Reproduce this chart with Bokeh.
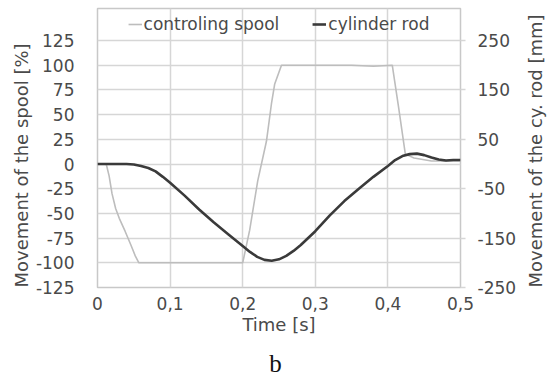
import math
from bokeh.plotting import figure
from bokeh.layouts import row, column
from bokeh.models import Range1d, LinearAxis, FixedTicker, Legend, LegendItem, Title
from bokeh.embed import file_html
from bokeh.resources import INLINE

# ---- data ----
time_spool = [0, 0.012, 0.016, 0.020, 0.025, 0.030, 0.038, 0.046, 0.052, 0.057,
              0.100, 0.150, 0.197, 0.200, 0.2096, 0.2207, 0.2327, 0.2396, 0.2441, 0.2534,
              0.300, 0.350, 0.380, 0.406, 0.415, 0.424, 0.436, 0.460, 0.480, 0.500]
spool_pct = [0, 0, -12, -30, -45, -55, -68, -82, -93, -100,
             -100, -100, -100, -100, -67, -17, 23, 61, 81, 100,
             100, 100, 99, 100, 56, 10, 6, 3, 3, 3]

time_rod = [0, 0.02, 0.04, 0.05, 0.06, 0.07, 0.08, 0.09, 0.10, 0.12, 0.14, 0.16, 0.18,
            0.20, 0.21, 0.22, 0.23, 0.24, 0.25, 0.26, 0.27, 0.28, 0.30, 0.32, 0.34, 0.36,
            0.38, 0.40, 0.41, 0.42, 0.43, 0.44, 0.45, 0.46, 0.47, 0.48, 0.49, 0.50]
rod_mm = [0, 0, 0, -1, -4, -8, -15, -26, -38, -64, -92, -118, -142,
          -166, -178, -188, -194, -196, -193, -186, -176, -164, -136, -104, -75, -50,
          -26, -4, 8, 16, 20, 21, 18, 13, 9, 7, 8, 8]

x_ticks = [0, 0.1, 0.2, 0.3, 0.4, 0.5]
x_tick_labels = ["0", "0,1", "0,2", "0,3", "0,4", "0,5"]
left_ticks = [-125, -100, -75, -50, -25, 0, 25, 50, 75, 100, 125]
left_tick_labels = ["-125", "-100", "-75", "-50", "-25", "0", "25", "50", "75", "100", "125"]
right_ticks = [-250, -150, -50, 50, 150, 250]
right_tick_labels = ["-250", "-150", "-50", "50", "150", "250"]

series_names = ["controling spool", "cylinder rod"]
left_title = "Movement of the spool [%]"
right_title = "Movement of the cy. rod [mm]"
x_title = "Time [s]"
caption_text = "b"

FONT = "DejaVu Sans"
TXT = "#4a4a4a"
GRID = "#d6d6d6"


def bare(fig):
    fig.outline_line_color = None
    fig.background_fill_color = "white"
    fig.border_fill_color = "white"
    fig.grid.visible = False
    return fig


top_left = 157.4
p = figure(width=520, height=340, output_backend="svg", toolbar_location=None,
           x_range=Range1d(0, 0.5), y_range=Range1d(-125, top_left),
           min_border_left=97, min_border_right=60, min_border_top=8, min_border_bottom=53)
p.extra_y_ranges = {"mm": Range1d(-250, 2 * top_left)}

p.outline_line_color = "#c8c8c8"
p.outline_line_width = 1.5
p.background_fill_color = "white"
p.border_fill_color = "white"


def style_axis(ax):
    ax.axis_line_color = None
    ax.minor_tick_line_color = None
    ax.major_label_text_font = FONT
    ax.major_label_text_font_size = "17px"
    ax.major_label_text_color = TXT
    ax.axis_label_text_font = FONT
    ax.axis_label_text_font_size = "18px"
    ax.axis_label_text_font_style = "normal"
    ax.axis_label_text_color = TXT


# x axis
xa = p.xaxis[0]
style_axis(xa)
xa.ticker = FixedTicker(ticks=x_ticks)
xa.major_label_overrides = {t: l for t, l in zip(x_ticks, x_tick_labels)}
xa.major_tick_line_color = None
xa.major_label_standoff = 3
xa.axis_label = x_title
xa.axis_label_standoff = 1

# left axis
ya = p.yaxis[0]
style_axis(ya)
ya.ticker = FixedTicker(ticks=left_ticks)
ya.major_label_overrides = {t: l for t, l in zip(left_ticks, left_tick_labels)}
ya.major_tick_line_color = None
ya.major_label_standoff = 17

# right axis
ra = LinearAxis(y_range_name="mm", ticker=FixedTicker(ticks=right_ticks))
style_axis(ra)
ra.major_label_overrides = {t: l for t, l in zip(right_ticks, right_tick_labels)}
ra.major_tick_line_color = GRID
ra.major_tick_line_width = 1.5
ra.major_tick_in = 0
ra.major_tick_out = 5
ra.major_label_standoff = 12
p.add_layout(ra, "right")

p.xgrid.ticker = FixedTicker(ticks=x_ticks)
p.ygrid.ticker = FixedTicker(ticks=left_ticks)
for g in (p.xgrid[0], p.ygrid[0]):
    g.grid_line_color = GRID
    g.grid_line_width = 1.5

r_spool = p.line(time_spool, spool_pct, line_color="#bdbdbd", line_width=1.6)
r_rod = p.line(time_rod, rod_mm, y_range_name="mm", line_color="#3a3a3a", line_width=2.6)

legend = Legend(items=[LegendItem(label=series_names[0], renderers=[r_spool]),
                       LegendItem(label=series_names[1], renderers=[r_rod])],
                orientation="horizontal", location="top_center",
                background_fill_alpha=0, border_line_alpha=0,
                label_text_font=FONT, label_text_font_size="17px", label_text_color=TXT,
                glyph_width=14, glyph_height=20, label_standoff=2, spacing=33,
                padding=5, margin=1)
p.add_layout(legend)

# left axis title, starting at the bottom of the frame and reading upwards
p.add_layout(Title(text=left_title, align="left", standoff=2,
                   text_font=FONT, text_font_size="18px", text_font_style="normal",
                   text_color=TXT), "left")

# narrow companion figure holding the right-hand axis title, reading bottom-to-top
p2 = bare(figure(width=30, height=340, output_backend="svg", toolbar_location=None,
                 x_axis_type=None, y_axis_type=None,
                 min_border_left=0, min_border_right=0, min_border_top=8, min_border_bottom=40))
p2.add_layout(Title(text=right_title, align="left", standoff=4,
                    text_font=FONT, text_font_size="18px", text_font_style="normal",
                    text_color=TXT), "left")

# caption strip
p3 = bare(figure(width=550, height=38, output_backend="svg", toolbar_location=None,
                 x_axis_type=None, y_axis_type=None,
                 min_border_left=0, min_border_right=0, min_border_top=0, min_border_bottom=30))
p3.add_layout(Title(text=caption_text, align="center", text_font="Liberation Serif",
                    text_font_size="25px", text_font_style="normal", text_color="#111111",
                    standoff=4), "below")

layout = column(row(p, p2, spacing=0), p3, spacing=0)
open("out.html", "w").write(file_html(layout, INLINE))
